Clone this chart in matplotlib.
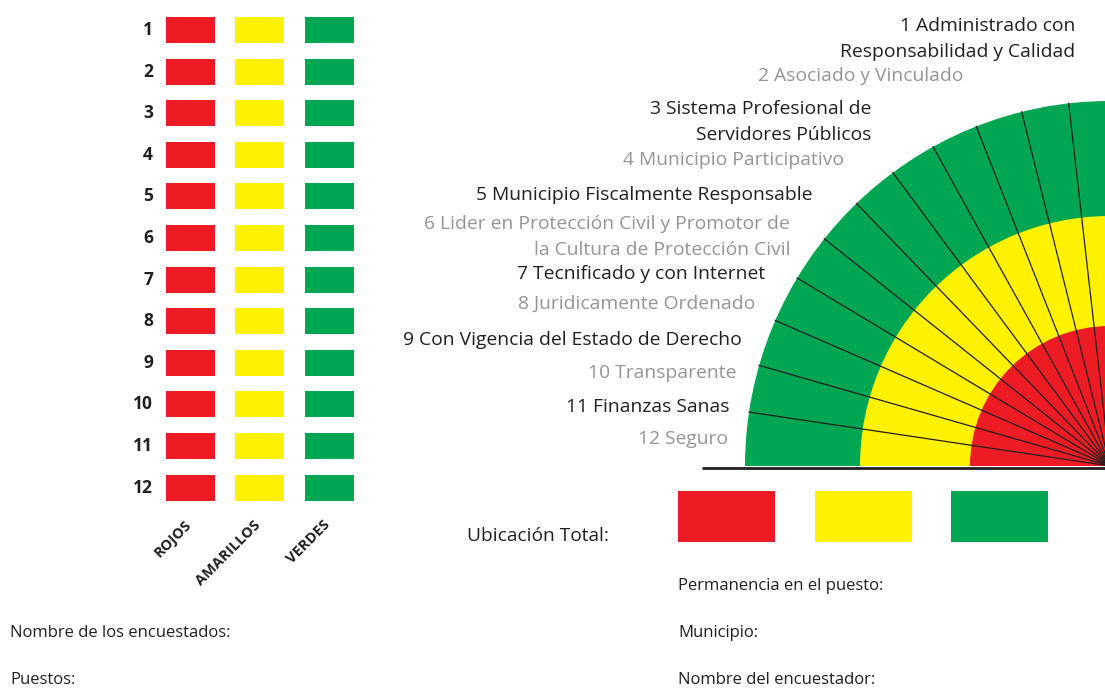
import numpy as np
import matplotlib.pyplot as plt
from matplotlib.patches import Rectangle, Wedge

plt.rcParams['font.family'] = ['Open Sans', 'DejaVu Sans']

# datos
filas = [str(i) for i in range(1, 13)]
columnas = ['ROJOS', 'AMARILLOS', 'VERDES']
colores = ['#ED1C24', '#FFF200', '#00A651']

etiquetas = [
    '1 Administrado con\nResponsabilidad y Calidad',
    '2 Asociado y Vinculado',
    '3 Sistema Profesional de\nServidores Públicos',
    '4 Municipio Participativo',
    '5 Municipio Fiscalmente Responsable',
    '6 Lider en Protección Civil y Promotor de\nla Cultura de Protección Civil',
    '7 Tecnificado y con Internet',
    '8 Juridicamente Ordenado',
    '9 Con Vigencia del Estado de Derecho',
    '10 Transparente',
    '11 Finanzas Sanas',
    '12 Seguro',
]
# posicion de cada etiqueta (borde derecho, centro vertical)
etiq_x = [1075, 963, 871, 844, 813, 790, 765, 755, 742, 736, 729, 728]
etiq_y = [39, 76, 122, 160, 195, 237, 274, 304, 340, 373, 407, 439]

anillos = ['VERDES', 'AMARILLOS', 'ROJOS']
radios = [365, 250, 140]

campos_izq = ['Nombre de los encuestados:', 'Puestos:']
campos_der = ['Permanencia en el puesto:', 'Municipio:', 'Nombre del encuestador:']

negro = '#231F20'
gris = '#939598'

fig = plt.figure(figsize=(11.05, 6.89), dpi=100)
ax = fig.add_axes([0, 0, 1, 1])
ax.set_xlim(0, 1105)
ax.set_ylim(689, 0)
ax.axis('off')

# tabla de rectangulos
col_x = [166, 235, 305]
for i, f in enumerate(filas):
    yc = 30 + i * 41.6
    ax.text(153, yc, f, ha='right', va='center', fontsize=12.5,
            fontweight='bold', color=negro)
    for j, c in enumerate(colores):
        ax.add_patch(Rectangle((col_x[j], yc - 13), 49, 26, color=c, lw=0))

for j, nom in enumerate(columnas):
    ax.text(col_x[j] + 23, 523, nom, ha='right', va='center', rotation=45,
            rotation_mode='anchor', fontsize=10.5, fontweight='bold', color=negro)

# abanico
cx, cy = 1110, 466
col_anillo = dict(zip(columnas, colores))
for nom, r in zip(anillos, radios):
    ax.add_patch(Wedge((cx, cy), r, 180, 270, color=col_anillo[nom], lw=0))

n = len(etiquetas)
for k in range(1, n):
    a = np.deg2rad(180 + 90 * k / n + 1.0)
    ax.plot([cx, cx + radios[0] * np.cos(a)], [cy, cy + radios[0] * np.sin(a)],
            color=negro, lw=0.9)
ax.plot([702, 1105], [467.5, 467.5], color=negro, lw=2, solid_capstyle='butt')

for i, t in enumerate(etiquetas):
    ax.text(etiq_x[i], etiq_y[i], t, ha='right', va='center', fontsize=13.9,
            color=negro if i % 2 == 0 else gris, linespacing=1.57)

# ubicacion total
ax.text(467, 536, 'Ubicación Total:', ha='left', va='center', fontsize=13.8, color=negro)
for j, c in enumerate(colores):
    ax.add_patch(Rectangle((678 + j * 136.5, 491), 97, 51, color=c, lw=0))

for i, t in enumerate(campos_der):
    ax.text(678, 586 + i * 47, t, ha='left', va='center', fontsize=12, color=negro)
for i, t in enumerate(campos_izq):
    ax.text(10, 633 + i * 47, t, ha='left', va='center', fontsize=12, color=negro)

fig.savefig('out.png', dpi=100, facecolor='white')
